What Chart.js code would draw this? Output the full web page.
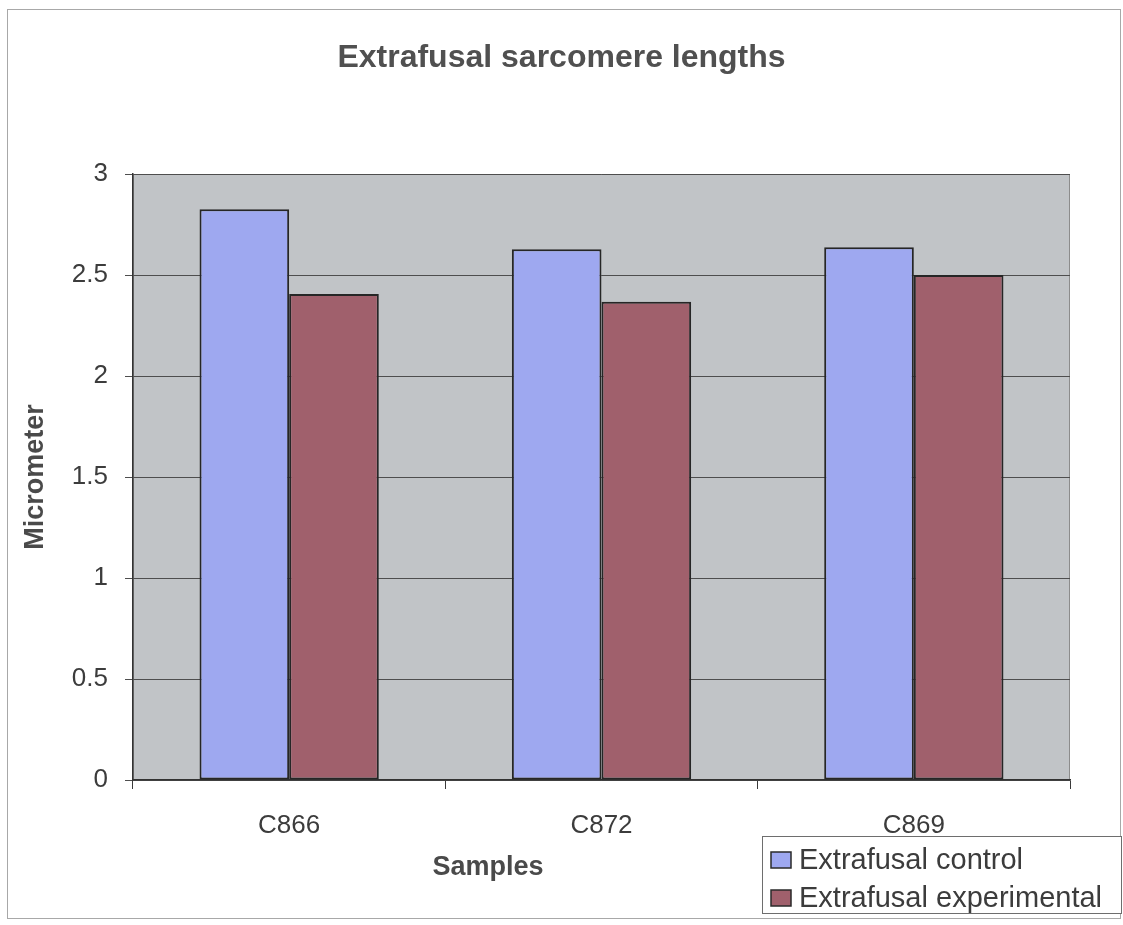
<!DOCTYPE html>
<html>
<head>
<meta charset="utf-8">
<title>Extrafusal sarcomere lengths</title>
<script src="https://cdn.jsdelivr.net/npm/chart.js@4/dist/chart.umd.min.js"></script>
<style>
  html, body { margin: 0; padding: 0; background: #ffffff; }
  #wrap { position: relative; width: 1123px; height: 925px; }
  canvas { display: block; }
</style>
</head>
<body>
<div id="wrap"><canvas id="chart" width="1123" height="925"></canvas></div>
<script>
// Sample identifiers along the x axis
const samples = ['C866', 'C872', 'C869'];

// Mean sarcomere length (micrometer) per sample
const controlValues = [2.825, 2.627, 2.637];
const experimentalValues = [2.406, 2.368, 2.50];

// Series names
const seriesNames = ['Extrafusal control', 'Extrafusal experimental'];

// Y axis range and step
const yMin = 0;
const yMax = 3;
const yStep = 0.5;

const xAxisTitle = 'Samples';

const FONT = '"Liberation Sans", Arial, sans-serif';
const TEXT = '#3c3c3c';

// Gray plot background with a light frame, plus the outer chart frame
const backdrop = {
  id: 'backdrop',
  beforeDraw(chart) {
    const { ctx, chartArea: a } = chart;
    ctx.save();
    ctx.strokeStyle = '#a8a8a8';
    ctx.lineWidth = 1;
    ctx.strokeRect(7.5, 9.5, 1113, 909);
    ctx.fillStyle = '#c1c4c7';
    ctx.fillRect(a.left, a.top, a.right - a.left, a.bottom - a.top);
    ctx.strokeStyle = '#8c8c8c';
    ctx.strokeRect(a.left + 0.5, a.top + 0.5, a.right - a.left - 1, a.bottom - a.top);
    ctx.restore();
  }
};

// X axis title, set left of the plot centre under the first two samples
const xTitle = {
  id: 'xTitle',
  afterDraw(chart) {
    const { ctx } = chart;
    ctx.save();
    ctx.font = 'bold 27px ' + FONT;
    ctx.fillStyle = '#4a4a4a';
    ctx.textAlign = 'center';
    ctx.textBaseline = 'middle';
    ctx.fillText(xAxisTitle, 488, 868);
    ctx.restore();
  }
};

// Boxed legend in the lower-right corner, built from the datasets
const boxLegend = {
  id: 'boxLegend',
  afterDraw(chart) {
    const { ctx } = chart;
    const x = 762, y = 836, w = 360, h = 78;
    ctx.save();
    ctx.fillStyle = '#ffffff';
    ctx.fillRect(x, y, w, h);
    ctx.strokeStyle = '#6e6e6e';
    ctx.lineWidth = 1;
    ctx.strokeRect(x + 0.5, y + 0.5, w - 1, h - 1);
    ctx.font = '29px ' + FONT;
    ctx.textBaseline = 'middle';
    ctx.textAlign = 'left';
    chart.data.datasets.forEach((ds, i) => {
      const cy = y + 24 + i * 38;
      ctx.fillStyle = ds.backgroundColor;
      ctx.fillRect(x + 9, cy - 8, 20, 16);
      ctx.strokeStyle = '#2a2a2a';
      ctx.lineWidth = 1.5;
      ctx.strokeRect(x + 9, cy - 8, 20, 16);
      ctx.fillStyle = TEXT;
      ctx.fillText(ds.label, x + 37, cy + 1);
    });
    ctx.restore();
  }
};

new Chart(document.getElementById('chart'), {
  type: 'bar',
  data: {
    labels: samples,
    datasets: [
      {
        label: seriesNames[0],
        data: controlValues,
        backgroundColor: '#9ea8f0',
        borderColor: '#262626',
        borderWidth: 2,
        borderSkipped: false
      },
      {
        label: seriesNames[1],
        data: experimentalValues,
        backgroundColor: '#a0606c',
        borderColor: '#262626',
        borderWidth: 2,
        borderSkipped: false
      }
    ]
  },
  options: {
    responsive: false,
    animation: false,
    devicePixelRatio: 1,
    layout: { padding: { left: 8, right: 8, top: 0, bottom: 0 } },
    datasets: {
      bar: { categoryPercentage: 0.574, barPercentage: 1.0 }
    },
    plugins: {
      legend: { display: false },
      tooltip: { enabled: false },
      title: {
        display: true,
        text: 'Extrafusal sarcomere lengths',
        color: '#505050',
        font: { family: FONT, size: 32, weight: 'bold' },
        padding: { top: 39, bottom: 96.6 }
      }
    },
    scales: {
      x: {
        grid: {
          offset: true,
          drawOnChartArea: false,
          drawTicks: true,
          tickLength: 9,
          color: '#3a3a3a',
          lineWidth: 1
        },
        border: { display: true, color: '#333333', width: 1.5 },
        ticks: {
          color: TEXT,
          font: { family: FONT, size: 26 },
          padding: 21
        },
        afterFit(scale) { scale.height = 145; }
      },
      y: {
        min: yMin,
        max: yMax,
        grid: {
          drawOnChartArea: true,
          drawTicks: true,
          tickLength: 8,
          color: '#4e4e4e',
          lineWidth: 1
        },
        border: { display: true, color: '#333333', width: 1.5 },
        ticks: {
          stepSize: yStep,
          color: TEXT,
          font: { family: FONT, size: 26 },
          padding: 17,
          callback: (v) => String(v)
        },
        title: {
          display: true,
          text: 'Micrometer',
          color: '#4a4a4a',
          font: { family: FONT, size: 27, weight: 'bold' },
          padding: { top: 11, bottom: 10 }
        },
        afterFit(scale) { scale.width = 125; }
      },
      // Empty right-hand band that keeps the plot clear of the frame
      yRight: {
        position: 'right',
        display: true,
        grid: { display: false, drawTicks: false },
        border: { display: false },
        ticks: { display: false },
        afterFit(scale) { scale.width = 45; }
      }
    }
  },
  plugins: [backdrop, xTitle, boxLegend]
});
</script>
</body>
</html>
